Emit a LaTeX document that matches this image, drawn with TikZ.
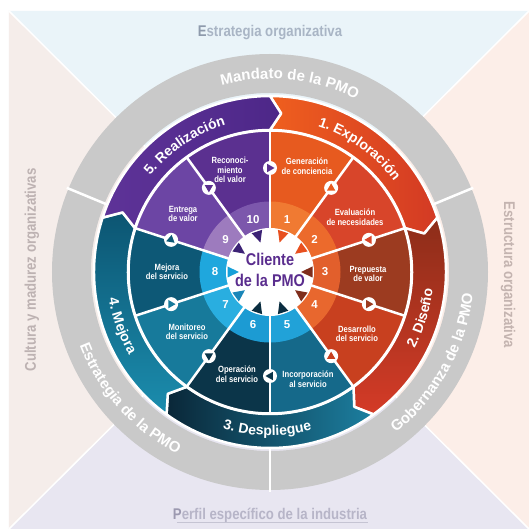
\documentclass[tikz,border=0pt]{standalone}
\usepackage{fontspec}
\setmainfont{Liberation Sans}
\newfontfamily\condfam{Liberation Sans}[FakeStretch=0.85]
\usetikzlibrary{decorations.text}
\definecolor{bgtop}{HTML}{EAF4F9}
\definecolor{bgleft}{HTML}{F5EDEA}
\definecolor{bgright}{HTML}{FCEEE8}
\definecolor{bgbot}{HTML}{E8E6F1}
\definecolor{txtop}{HTML}{A9B5C5}
\definecolor{txtopd}{HTML}{8E9AAC}
\definecolor{txleft}{HTML}{BDB2B2}
\definecolor{txright}{HTML}{C4B4B0}
\definecolor{txbot}{HTML}{B7B5C8}
\definecolor{txbotd}{HTML}{9C99B0}
\definecolor{ringgray}{HTML}{C9C9C9}
\definecolor{clientc}{HTML}{5A2D8E}
% activity sectors
\definecolor{a1}{HTML}{E75A1F}
\definecolor{a2}{HTML}{D8452A}
\definecolor{a3}{HTML}{9C3B20}
\definecolor{a4}{HTML}{C8401F}
\definecolor{a5}{HTML}{15698A}
\definecolor{a6}{HTML}{0B3549}
\definecolor{a7}{HTML}{177A9B}
\definecolor{a8}{HTML}{0D5876}
\definecolor{a9}{HTML}{6C45A4}
\definecolor{a10}{HTML}{5B3090}
% number ring
\definecolor{n1}{HTML}{F07A32}
\definecolor{n2}{HTML}{EC6A2C}
\definecolor{n3}{HTML}{E25F2C}
\definecolor{n4}{HTML}{E8672E}
\definecolor{n5}{HTML}{21A2D8}
\definecolor{n6}{HTML}{1C9BD3}
\definecolor{n7}{HTML}{29AEE0}
\definecolor{n8}{HTML}{1FA7DD}
\definecolor{n9}{HTML}{9D7BBE}
\definecolor{n10}{HTML}{7C57AC}
% inner triangles
\definecolor{i1}{HTML}{E8501F}
\definecolor{i3}{HTML}{7F2E1C}
\definecolor{i5}{HTML}{0A2D40}
\definecolor{i7}{HTML}{1A86B8}
\definecolor{i8}{HTML}{17A0D8}
\definecolor{i9}{HTML}{3C2275}
% phases
\definecolor{p1a}{HTML}{EF5F1E}
\definecolor{p1b}{HTML}{D33A24}
\definecolor{p2a}{HTML}{8C2D19}
\definecolor{p2b}{HTML}{D43B27}
\definecolor{p3a}{HTML}{0A2738}
\definecolor{p3b}{HTML}{1C7FA0}
\definecolor{p4a}{HTML}{0C5572}
\definecolor{p4b}{HTML}{1B8DAE}
\definecolor{p5a}{HTML}{5E3398}
\definecolor{p5b}{HTML}{4D2788}
\newcommand\mybgfont{\condfam\bfseries\fontsize{15.5}{16}\selectfont}
\newcommand\myringfont{\bfseries\fontsize{15}{15}\selectfont}
\newcommand\myphfont{\bfseries\fontsize{14}{14}\selectfont}
\newcommand\myactfont{\condfam\bfseries\fontsize{9}{9.5}\selectfont}
\newcommand\mynumfont{\bfseries\fontsize{11.5}{12}\selectfont}
\newcommand\myclifont{\condfam\bfseries\fontsize{17}{21}\selectfont}
\begin{document}
\begin{tikzpicture}[x=1pt,y=1pt,line join=round,
  act/.style={text=white,font=\myactfont,align=center,inner sep=0pt},
  num/.style={text=white,font=\mynumfont,inner sep=0pt},
  bglab/.style={font=\mybgfont,inner sep=0pt},
  phaseshape/.style={draw=white,line width=2.5pt},
  divline/.style={white,line width=2.5pt}]
\useasboundingbox (-270,-257) rectangle (259,272);
\fill[white] (-270,-257) rectangle (259,272);
% background quadrants
\fill[bgtop] (0,0) -- (-261,261) -- (259,261) -- cycle;
\fill[bgright] (0,0) -- (259,261) -- (259,-257) -- cycle;
\fill[bgbot] (0,0) -- (259,-257) -- (-261,-257) -- cycle;
\fill[bgleft] (0,0) -- (-261,-257) -- (-261,261) -- cycle;
\draw[white,line width=1.5pt] (-261,261) -- (259,-257) (259,261) -- (-261,-257);
% background labels
\node[bglab,text=txtop] (lt) at (0,239) {{\color{txtopd}E}strategia organizativa};
\node[bglab,text=txleft,rotate=90] (ll) at (-238,2) {Cultura y madurez organizativas};
\node[bglab,text=txright,rotate=-90] (lr) at (238,-3) {Estructura organizativa};
\node[bglab,text=txbot] (lb) at (0,-243) {{\color{txbotd}P}erfil específico de la industria};
\draw[txbot!80,line width=0.9pt] (-93,-250) -- (98,-250);
% gray ring
\fill[ringgray,even odd rule] (0,0) circle[radius=218pt] (0,0) circle[radius=179pt];
\foreach \a in {22.5,157.5,270} \draw[divline] (\a:177pt) -- (\a:220pt);
% phases (chevrons)
\path[phaseshape,left color=p1a,right color=p1b]
  (90:176pt) arc[start angle=90,end angle=18,radius=176pt] -- (14:159pt) -- (18:142pt)
  arc[start angle=18,end angle=90,radius=142pt] -- (86:159pt) -- cycle;
\path[phaseshape,top color=p2a,bottom color=p2b]
  (18:176pt) arc[start angle=18,end angle=-54,radius=176pt] -- (-58:159pt) -- (-54:142pt)
  arc[start angle=-54,end angle=18,radius=142pt] -- (14:159pt) -- cycle;
\path[phaseshape,left color=p3a,right color=p3b]
  (-54:176pt) arc[start angle=-54,end angle=-126,radius=176pt] -- (-130:159pt) -- (-126:142pt)
  arc[start angle=-126,end angle=-54,radius=142pt] -- (-58:159pt) -- cycle;
\path[phaseshape,top color=p4a,bottom color=p4b]
  (234:176pt) arc[start angle=234,end angle=162,radius=176pt] -- (158:159pt) -- (162:142pt)
  arc[start angle=162,end angle=234,radius=142pt] -- (230:159pt) -- cycle;
\path[phaseshape,left color=p5a,right color=p5b]
  (162:176pt) arc[start angle=162,end angle=90,radius=176pt] -- (86:159pt) -- (90:142pt)
  arc[start angle=90,end angle=162,radius=142pt] -- (158:159pt) -- cycle;
% activity sectors and number ring
\foreach \k/\c/\n in {1/a1/n1,2/a2/n2,3/a3/n3,4/a4/n4,5/a5/n5,6/a6/n6,7/a7/n7,8/a8/n8,9/a9/n9,10/a10/n10}{
  \pgfmathsetmacro\s{90-36*(\k-1)}
  \pgfmathsetmacro\e{\s-36}
  \fill[fill=\c] (\s:70pt) -- (\s:141pt) arc[start angle=\s,end angle=\e,radius=141pt]
    -- (\e:70pt) arc[start angle=\e,end angle=\s,radius=70pt] -- cycle;
  \fill[fill=\n] (\s:43pt) -- (\s:70.5pt) arc[start angle=\s,end angle=\e,radius=70.5pt]
    -- (\e:43pt) arc[start angle=\e,end angle=\s,radius=43pt] -- cycle;
}
\draw[divline] (0,0) circle[radius=141.5pt];
\foreach \k in {0,...,9} \draw[divline] (90-36*\k:40pt) -- (90-36*\k:141pt);
% centre disc
\fill[white] (0,0) circle[radius=44pt];
\foreach \k/\c in {1/i1,2/i1,3/i3,4/i3,5/i5,6/i5,7/i7,8/i8,9/i9,10/i9}{
  \pgfmathsetmacro\t{72-36*(\k-1)}
  \fill[fill=\c,rotate=\t] (31,0) -- (42.5,5.5) -- (42.5,-5.5) -- cycle;
}
% numbers
\foreach \k in {1,...,10}{
  \pgfmathsetmacro\t{72-36*(\k-1)}
  \node[num] (num\k) at (\t:55pt) {\k};
}
% small circles with arrowheads on dividers (angle / pointing direction / colour)
\foreach \a/\d/\c in {90/0/a10,54/90/a1,18/180/a2,-18/0/a3,-54/90/a4,-90/180/a6,-126/-90/a6,-162/0/a7,162/-40/a8,126/-90/a10}{
  \begin{scope}[shift={(\a:104pt)}]
    \fill[white] (0,0) circle[radius=7pt];
    \fill[fill=\c,rotate=\d] (4.5,0) -- (-2.8,4.2) -- (-2.8,-4.2) -- cycle;
  \end{scope}
}
% client
\node[text=clientc,font=\myclifont,align=center,inner sep=0pt] (client) at (0,2.5) {Cliente\\de la PMO};
% activity labels
\node[act] (g1) at (37,106) {Generación\\de conciencia};
\node[act] (g2) at (85,55) {Evaluación\\de necesidades};
\node[act] (g3) at (98,-2) {Prepuesta\\de valor};
\node[act] (g4) at (87,-62) {Desarrollo\\del servicio};
\node[act] (g5) at (38,-107) {Incorporación\\al servicio};
\node[act] (g6) at (-33,-102) {Operación\\del servicio};
\node[act] (g7) at (-83,-60) {Monitoreo\\del servicio};
\node[act] (g8) at (-103,0) {Mejora\\del servicio};
\node[act] (g9) at (-87,58) {Entrega\\de valor};
\node[act] (g10) at (-40,102) {Reconoci-\\miento\\del valor};
% phase labels
\path[decorate,decoration={text along path,text color=white,text align=center,
  text={|\myphfont|1. Exploración}}] (94:153.5pt) arc[start angle=94,end angle=14,radius=153.5pt];
\path[decorate,decoration={text along path,text color=white,text align=center,
  text={|\myphfont|5. Realización}}] (164:153.5pt) arc[start angle=164,end angle=84,radius=153.5pt];
\path[decorate,decoration={text along path,text color=white,text align=center,
  text={|\myphfont|2. Diseño}}] (-57:163.5pt) arc[start angle=-57,end angle=23,radius=163.5pt];
\path[decorate,decoration={text along path,text color=white,text align=center,
  text={|\myphfont|3. Despliegue}}] (-131:163.5pt) arc[start angle=-131,end angle=-51,radius=163.5pt];
\path[decorate,decoration={text along path,text color=white,text align=center,
  text={|\myphfont|4. Mejora}}] (160:163.5pt) arc[start angle=160,end angle=240,radius=163.5pt];
% ring labels
\path[decorate,decoration={text along path,text color=white,text align=center,
  text={|\myringfont|Mandato de la PMO}}] (124:193pt) arc[start angle=124,end angle=44,radius=193pt];
\path[decorate,decoration={text along path,text color=white,text align=center,
  text={|\myringfont|Gobernanza de la PMO}}] (-69:204pt) arc[start angle=-69,end angle=11,radius=204pt];
\path[decorate,decoration={text along path,text color=white,text align=center,
  text={|\myringfont|Estrategia de la PMO}}] (182:204pt) arc[start angle=182,end angle=262,radius=204pt];
\end{tikzpicture}
\end{document}
